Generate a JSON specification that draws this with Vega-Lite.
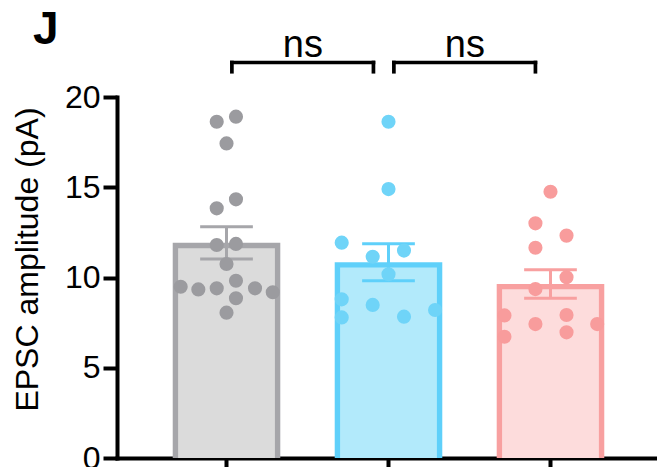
{
  "$schema": "https://vega.github.io/schema/vega-lite/v6.json",
  "width": 543,
  "height": 361,
  "autosize": {"type": "none"},
  "padding": {"left": 117, "top": 97, "right": 0, "bottom": 9},
  "background": "white",
  "title": {"text": "J", "anchor": "start", "frame": "group", "fontSize": 46, "fontWeight": "bold", "font": "Liberation Sans", "color": "black", "baseline": "alphabetic", "offset": 0, "dx": -84, "dy": 63},
  "datasets": {
    "points": [
      {"group": "Group 1", "dx": -0.091, "v": 18.63},
      {"group": "Group 1", "dx": 0.088, "v": 18.91},
      {"group": "Group 1", "dx": 0.0, "v": 17.43},
      {"group": "Group 1", "dx": 0.088, "v": 14.33},
      {"group": "Group 1", "dx": -0.091, "v": 13.83},
      {"group": "Group 1", "dx": -0.091, "v": 11.8},
      {"group": "Group 1", "dx": 0.088, "v": 11.86},
      {"group": "Group 1", "dx": 0.0, "v": 10.75},
      {"group": "Group 1", "dx": -0.426, "v": 9.49},
      {"group": "Group 1", "dx": -0.262, "v": 9.34},
      {"group": "Group 1", "dx": -0.091, "v": 9.4},
      {"group": "Group 1", "dx": 0.088, "v": 9.82},
      {"group": "Group 1", "dx": 0.265, "v": 9.4},
      {"group": "Group 1", "dx": 0.43, "v": 9.18},
      {"group": "Group 1", "dx": 0.088, "v": 8.85},
      {"group": "Group 1", "dx": 0.0, "v": 8.05},
      {"group": "Group 2", "dx": 0.0, "v": 18.63},
      {"group": "Group 2", "dx": 0.0, "v": 14.9},
      {"group": "Group 2", "dx": -0.435, "v": 11.93},
      {"group": "Group 2", "dx": -0.147, "v": 11.15},
      {"group": "Group 2", "dx": 0.144, "v": 11.49},
      {"group": "Group 2", "dx": 0.0, "v": 10.18},
      {"group": "Group 2", "dx": -0.435, "v": 8.79},
      {"group": "Group 2", "dx": -0.147, "v": 8.48},
      {"group": "Group 2", "dx": 0.433, "v": 8.2},
      {"group": "Group 2", "dx": -0.435, "v": 7.79},
      {"group": "Group 2", "dx": 0.144, "v": 7.83},
      {"group": "Group 3", "dx": 0.0, "v": 14.75},
      {"group": "Group 3", "dx": -0.14, "v": 13.0},
      {"group": "Group 3", "dx": 0.149, "v": 12.32},
      {"group": "Group 3", "dx": -0.14, "v": 11.65},
      {"group": "Group 3", "dx": 0.149, "v": 10.01},
      {"group": "Group 3", "dx": -0.14, "v": 9.36},
      {"group": "Group 3", "dx": -0.428, "v": 7.9},
      {"group": "Group 3", "dx": -0.14, "v": 7.42},
      {"group": "Group 3", "dx": 0.149, "v": 7.92},
      {"group": "Group 3", "dx": 0.434, "v": 7.42},
      {"group": "Group 3", "dx": -0.428, "v": 6.72},
      {"group": "Group 3", "dx": 0.149, "v": 6.96}
    ],
    "bars": [
      {"group": "Group 1", "mean": 11.92, "lo": 11.02, "hi": 12.81},
      {"group": "Group 2", "mean": 10.85, "lo": 9.82, "hi": 11.87},
      {"group": "Group 3", "mean": 9.64, "lo": 8.85, "hi": 10.43}
    ],
    "brackets": [
      {"a": "Group 1", "b": "Group 2", "yTop": 21.91, "yLow": 21.4, "yText": 22.24, "label": "ns"},
      {"a": "Group 2", "b": "Group 3", "yTop": 21.91, "yLow": 21.4, "yText": 22.24, "label": "ns"}
    ]
  },
  "resolve": {"scale": {"color": "independent", "xOffset": "independent"}},
  "layer": [
    {
      "data": {"name": "bars"},
      "mark": {"type": "bar", "clip": true},
      "encoding": {
        "x": {"field": "group", "type": "nominal", "title": null, "sort": ["Group 1", "Group 2", "Group 3"], "scale": {"domain": ["Group 1", "Group 2", "Group 3"], "paddingInner": 0.336, "paddingOuter": 0.344}},
        "y": {"field": "mean", "type": "quantitative", "title": "EPSC amplitude (pA)", "scale": {"domain": [0, 20], "nice": false}, "axis": {"values": [0, 5, 10, 15, 20]}},
        "color": {"field": "group", "type": "nominal", "legend": null, "scale": {"domain": ["Group 1", "Group 2", "Group 3"], "range": ["#a6a6aa", "#5fd0fa", "#f8a0a0"]}}
      }
    },
    {
      "data": {"name": "bars"},
      "mark": {"type": "bar", "clip": true, "yOffset": 5.3, "width": {"band": 0.9}},
      "encoding": {
        "x": {"field": "group", "type": "nominal", "title": null},
        "y": {"field": "mean", "type": "quantitative", "title": "EPSC amplitude (pA)"},
        "color": {"field": "group", "type": "nominal", "legend": null, "scale": {"domain": ["Group 1", "Group 2", "Group 3"], "range": ["#dbdbdb", "#b2eafb", "#fddcdc"]}}
      }
    },
    {
      "data": {"name": "bars"},
      "mark": {"type": "rule", "strokeWidth": 3},
      "encoding": {
        "x": {"field": "group", "type": "nominal", "title": null},
        "y": {"field": "lo", "type": "quantitative", "title": "EPSC amplitude (pA)"},
        "y2": {"field": "hi"},
        "color": {"field": "group", "type": "nominal", "legend": null, "scale": {"domain": ["Group 1", "Group 2", "Group 3"], "range": ["#a6a6aa", "#5fd0fa", "#f8a0a0"]}}
      }
    },
    {
      "data": {"name": "bars"},
      "mark": {"type": "rule", "strokeWidth": 3},
      "encoding": {
        "x": {"field": "group", "type": "nominal", "title": null, "bandPosition": 0.255},
        "x2": {"field": "group", "bandPosition": 0.745},
        "y": {"field": "lo", "type": "quantitative", "title": "EPSC amplitude (pA)"},
        "color": {"field": "group", "type": "nominal", "legend": null, "scale": {"domain": ["Group 1", "Group 2", "Group 3"], "range": ["#a6a6aa", "#5fd0fa", "#f8a0a0"]}}
      }
    },
    {
      "data": {"name": "bars"},
      "mark": {"type": "rule", "strokeWidth": 3},
      "encoding": {
        "x": {"field": "group", "type": "nominal", "title": null, "bandPosition": 0.255},
        "x2": {"field": "group", "bandPosition": 0.745},
        "y": {"field": "hi", "type": "quantitative", "title": "EPSC amplitude (pA)"},
        "color": {"field": "group", "type": "nominal", "legend": null, "scale": {"domain": ["Group 1", "Group 2", "Group 3"], "range": ["#a6a6aa", "#5fd0fa", "#f8a0a0"]}}
      }
    },
    {
      "data": {"name": "points"},
      "mark": {"type": "circle", "size": 200, "opacity": 1},
      "encoding": {
        "x": {"field": "group", "type": "nominal", "title": null},
        "xOffset": {"field": "dx", "type": "quantitative", "scale": {"domain": [-0.5, 0.5]}},
        "y": {"field": "v", "type": "quantitative", "title": "EPSC amplitude (pA)"},
        "color": {"field": "group", "type": "nominal", "legend": null, "scale": {"domain": ["Group 1", "Group 2", "Group 3"], "range": ["#9b9b9f", "#6fd4f8", "#f89c9c"]}}
      }
    },
    {
      "data": {"name": "brackets"},
      "mark": {"type": "rule", "strokeWidth": 3.7, "color": "black", "strokeCap": "square", "clip": false},
      "encoding": {
        "x": {"field": "a", "type": "nominal", "title": null, "bandPosition": 0.55},
        "x2": {"field": "b", "bandPosition": 0.36},
        "y": {"field": "yTop", "type": "quantitative", "title": "EPSC amplitude (pA)"}
      }
    },
    {
      "data": {"name": "brackets"},
      "mark": {"type": "rule", "strokeWidth": 3.7, "color": "black", "strokeCap": "square", "clip": false},
      "encoding": {
        "x": {"field": "a", "type": "nominal", "title": null, "bandPosition": 0.55},
        "y": {"field": "yTop", "type": "quantitative", "title": "EPSC amplitude (pA)"},
        "y2": {"field": "yLow"}
      }
    },
    {
      "data": {"name": "brackets"},
      "mark": {"type": "rule", "strokeWidth": 3.7, "color": "black", "strokeCap": "square", "clip": false},
      "encoding": {
        "x": {"field": "b", "type": "nominal", "title": null, "bandPosition": 0.36},
        "y": {"field": "yTop", "type": "quantitative", "title": "EPSC amplitude (pA)"},
        "y2": {"field": "yLow"}
      }
    },
    {
      "data": {"name": "brackets"},
      "mark": {"type": "text", "fontSize": 38, "font": "Liberation Sans", "color": "black", "align": "center", "baseline": "alphabetic", "clip": false},
      "encoding": {
        "x": {"field": "a", "type": "nominal", "title": null, "bandPosition": 1.21},
        "y": {"field": "yText", "type": "quantitative", "title": "EPSC amplitude (pA)"},
        "text": {"field": "label"}
      }
    }
  ],
  "config": {
    "view": {"stroke": null},
    "font": "Liberation Sans",
    "axis": {
      "domainColor": "black", "domainWidth": 4, "tickColor": "black", "tickWidth": 4,
      "labelFont": "Liberation Sans", "labelColor": "black", "titleFont": "Liberation Sans", "titleColor": "black",
      "grid": false, "zindex": 1
    },
    "axisX": {"labels": false, "tickSize": 14, "domainCap": "square"},
    "axisY": {"labelFontSize": 32, "tickSize": 14, "labelPadding": 3, "titleFontSize": 32, "titleFontWeight": "normal", "titleX": -80, "titleY": 162, "titleBaseline": "alphabetic", "titleAngle": -90, "titleAlign": "center", "domainCap": "square"}
  }
}
